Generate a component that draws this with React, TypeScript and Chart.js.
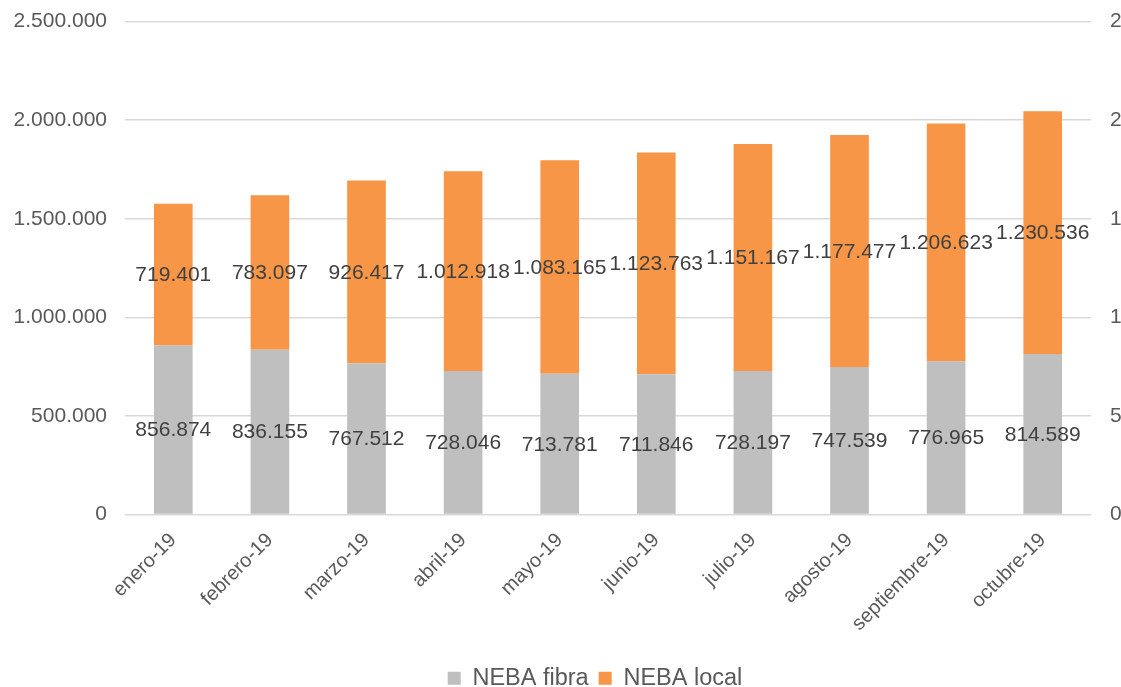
import React, { useEffect, useRef } from "react";
import { Chart, registerables } from "chart.js";

Chart.register(...registerables);

const categories = [
  "enero-19", "febrero-19", "marzo-19", "abril-19", "mayo-19",
  "junio-19", "julio-19", "agosto-19", "septiembre-19", "octubre-19",
];
const nebaFibra = [856874, 836155, 767512, 728046, 713781, 711846, 728197, 747539, 776965, 814589];
const nebaLocal = [719401, 783097, 926417, 1012918, 1083165, 1123763, 1151167, 1177477, 1206623, 1230536];
const seriesNames = ["NEBA fibra", "NEBA local"];
const yMax = 2500000;
const yStep = 500000;

const FONT = "'Liberation Sans', Arial, sans-serif";

function fmt(v: number): string {
  const s = Math.round(v).toString();
  return s.replace(/\B(?=(\d{3})+(?!\d))/g, ".");
}

const labelPlugin = {
  id: "segLabels",
  afterDatasetsDraw(chart: any) {
    const ctx = chart.ctx;
    ctx.save();
    ctx.font = `21px ${FONT}`;
    ctx.fillStyle = "#404040";
    ctx.textAlign = "center";
    ctx.textBaseline = "middle";
    chart.data.datasets.forEach((ds: any, di: number) => {
      const meta = chart.getDatasetMeta(di);
      meta.data.forEach((el: any, i: number) => {
        const y = (el.y + el.base) / 2;
        ctx.fillText(fmt(ds.data[i]), el.x, y + 1);
      });
    });
    ctx.restore();
  },
};

export default function App() {
  const ref = useRef<HTMLCanvasElement>(null);
  useEffect(() => {
    if (!ref.current) return;
    const chart = new Chart(ref.current, {
      type: "bar",
      data: {
        labels: categories,
        datasets: [
          {
            label: seriesNames[0],
            data: nebaFibra,
            backgroundColor: "#BFBFBF",
            yAxisID: "y",
            barPercentage: 0.4,
            categoryPercentage: 1,
          },
          {
            label: seriesNames[1],
            data: nebaLocal,
            backgroundColor: "#F79646",
            yAxisID: "y",
            barPercentage: 0.4,
            categoryPercentage: 1,
          },
        ],
      },
      options: {
        responsive: false,
        animation: false,
        layout: { padding: { left: 0, right: 0, top: 12, bottom: 0 } },
        plugins: {
          legend: {
            position: "bottom",
            labels: {
              font: { family: FONT, size: 23.5 },
              color: "#595959",
              boxWidth: 13,
              boxHeight: 13,
              padding: 10,
            },
          },
          tooltip: { enabled: false },
        },
        scales: {
          x: {
            stacked: true,
            grid: { display: false, drawTicks: false },
            border: { display: false },
            ticks: {
              font: { family: FONT, size: 20 },
              color: "#595959",
              minRotation: 45,
              maxRotation: 45,
              padding: 14,
              autoSkip: false,
            },
            afterFit: (s: any) => { s.height = 142; },
          },
          y: {
            stacked: true,
            position: "left",
            min: 0,
            max: yMax,
            grid: { color: "#D9D9D9", lineWidth: 1.5, drawTicks: false },
            border: { display: false },
            ticks: {
              stepSize: yStep,
              font: { family: FONT, size: 21 },
              color: "#595959",
              padding: 18,
              callback: (v: any) => fmt(Number(v)),
            },
            afterFit: (s: any) => { s.width = 125; },
          },
          y2: {
            position: "right",
            min: 0,
            max: yMax,
            grid: { display: false, drawTicks: false },
            border: { display: false },
            ticks: {
              stepSize: yStep,
              font: { family: FONT, size: 21 },
              color: "#595959",
              padding: 19,
              callback: (v: any) => fmt(Number(v)),
            },
            afterFit: (s: any) => { s.width = 99; },
          },
        },
      },
      plugins: [labelPlugin],
    });
    return () => chart.destroy();
  }, []);
  return (
    <div style={{ position: "fixed", left: 0, top: 0, width: 1121, height: 687, overflow: "hidden", background: "#fff" }}>
      <canvas ref={ref} width={1190} height={710} style={{ width: 1190, height: 710, display: "block", marginTop: -10 }} />
    </div>
  );
}
